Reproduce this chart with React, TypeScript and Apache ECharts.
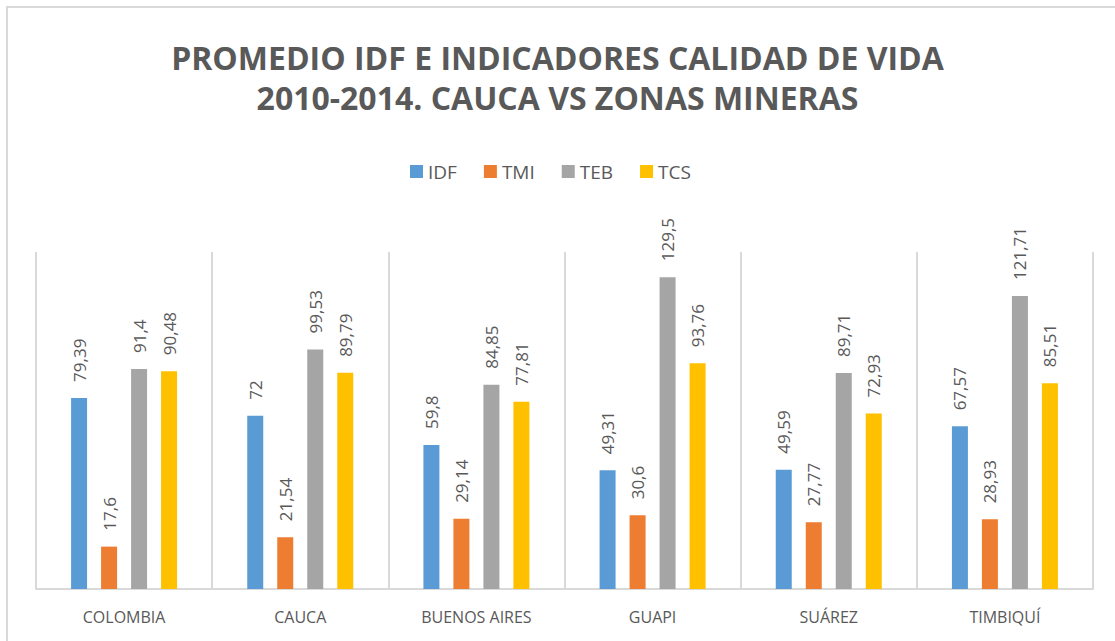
import React, { useEffect, useRef } from "react";
import * as echarts from "echarts";

const categories = ["COLOMBIA", "CAUCA", "BUENOS AIRES", "GUAPI", "SUÁREZ", "TIMBIQUÍ"];
const seriesNames = ["IDF", "TMI", "TEB", "TCS"];
const idf = [79.39, 72, 59.8, 49.31, 49.59, 67.57];
const tmi = [17.6, 21.54, 29.14, 30.6, 27.77, 28.93];
const teb = [91.4, 99.53, 84.85, 129.5, 89.71, 121.71];
const tcs = [90.48, 89.79, 77.81, 93.76, 72.93, 85.51];
const colors = ["#5B9BD5", "#ED7D31", "#A5A5A5", "#FFC000"];
const titleText = "PROMEDIO IDF E INDICADORES CALIDAD DE VIDA\n2010-2014. CAUCA VS ZONAS MINERAS";

export default function App() {
  const ref = useRef<HTMLDivElement>(null);
  useEffect(() => {
    if (!ref.current) return;
    const chart = echarts.init(ref.current, undefined, { renderer: "svg" });
    const data = [idf, tmi, teb, tcs];
    const font = "'Open Sans', 'Noto Sans', sans-serif";
    chart.setOption({
      animation: false,
      color: colors,
      graphic: [
        {
          type: "rect",
          shape: { x: 7, y: 7, width: 1300, height: 800 },
          style: { fill: "none", stroke: "#D9D9D9", lineWidth: 2 },
          silent: true,
        },
      ],
      title: {
        text: titleText,
        left: "center",
        top: 32,
        textStyle: {
          fontFamily: font,
          fontSize: 32,
          fontWeight: "bold",
          color: "#595959",
          lineHeight: 40,
        },
      },
      legend: {
        data: seriesNames,
        top: 157,
        left: 405,
        itemWidth: 13,
        itemHeight: 13,
        itemGap: 27,
        icon: "rect",
        textStyle: { fontFamily: font, fontSize: 19, color: "#595959" },
      },
      grid: { left: 36, right: 22, top: 252, bottom: 52, containLabel: false },
      xAxis: {
        type: "category",
        data: categories,
        axisLine: { show: true, lineStyle: { color: "#D9D9D9", width: 2 } },
        axisTick: { show: false },
        splitLine: { show: true, lineStyle: { color: "#D9D9D9", width: 2 } },
        axisLabel: {
          fontFamily: font,
          fontSize: 16,
          color: "#595959",
          margin: 20,
        },
      },
      yAxis: {
        type: "value",
        min: 0,
        max: 140,
        show: false,
        splitLine: { show: false },
      },
      series: seriesNames.map((name, i) => ({
        name,
        type: "bar",
        data: data[i],
        barWidth: 16,
        barGap: "87.5%",
        itemStyle: { color: colors[i] },
        label: {
          show: true,
          position: "top",
          rotate: 90,
          align: "left",
          verticalAlign: "middle",
          distance: 16,
          fontFamily: font,
          fontSize: 17,
          color: "#595959",
          formatter: (p: any) => String(p.value).replace(".", ","),
        },
      })),
    });
    return () => chart.dispose();
  }, []);
  return (
    <div
      ref={ref}
      style={{ position: "absolute", left: 0, top: 0, width: 1115, height: 641, background: "#fff" }}
    />
  );
}
